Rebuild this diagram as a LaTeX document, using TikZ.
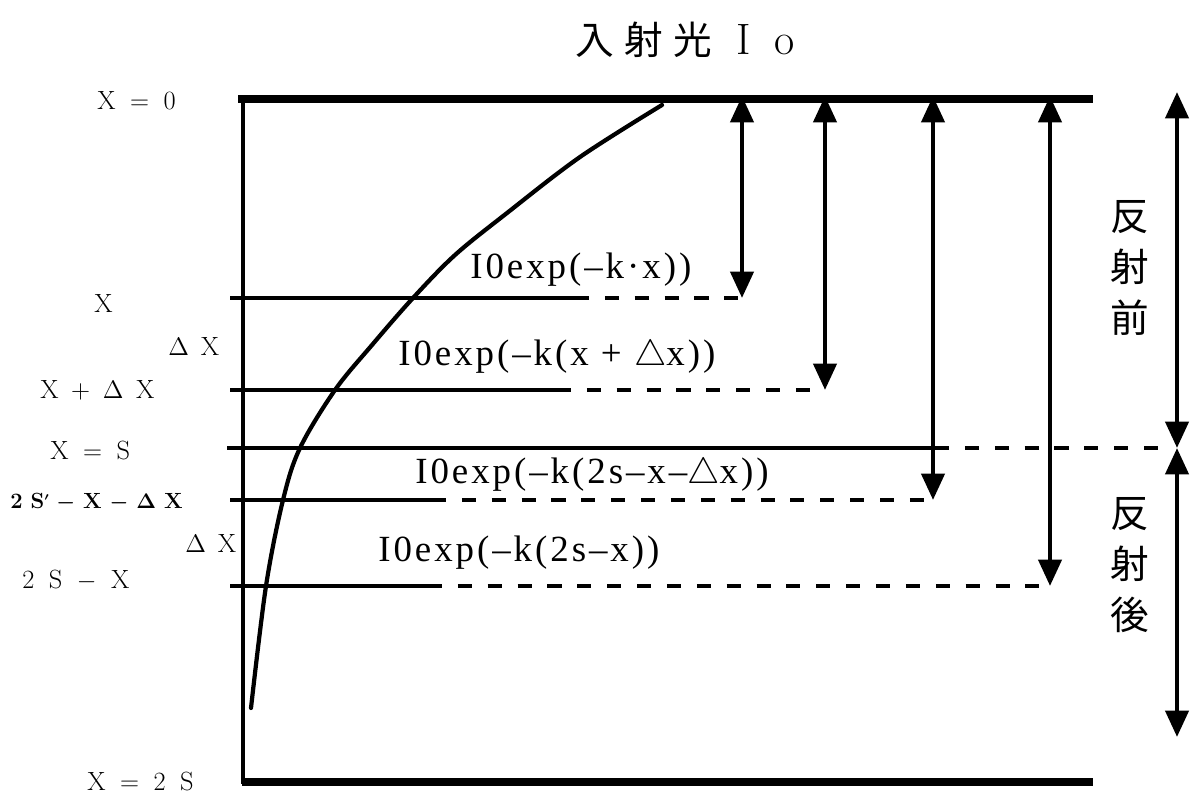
\documentclass[tikz,border=0pt]{standalone}
\usepackage{fontspec}
\usetikzlibrary{arrows.meta}
\newfontfamily\cjk{Noto Sans CJK JP}
\newfontfamily\expfont[LetterSpace=8]{Liberation Serif}
\newcommand{\gp}{\hspace{0.55em}}

\begin{document}
\begin{tikzpicture}[x=0.02cm, y=-0.02cm,
    thickline/.style={line width=4.5pt},
    levelline/.style={line width=2.2pt},
    dashline/.style={line width=2.2pt, dash pattern=on 8pt off 9pt},
    curveline/.style={line width=2.4pt, line cap=round},
    arrowline/.style={line width=2.6pt, {Triangle[length=15pt,width=13pt]}-{Triangle[length=15pt,width=13pt]}},
    lbl/.style={anchor=west, inner sep=0pt, font=\fontsize{15}{18}\selectfont},
    explbl/.style={anchor=west, inner sep=0pt, font=\fontsize{21}{24}\expfont},
    cjklbl/.style={inner sep=0pt, align=center, font=\fontsize{22}{29}\cjk}]
    \useasboundingbox (0,0) rectangle (1192,797);

    % Slab: surface, back face and left edge
    \coordinate (tl) at (238,99);
    \coordinate (tr) at (1093,99);
    \coordinate (bl) at (242,782);
    \coordinate (br) at (1093,782);
    \coordinate (lt) at (243,97);
    \coordinate (lb) at (243,784);
    \draw[thickline] (tl) -- (tr);
    \draw[thickline] (bl) -- (br);
    \draw[levelline] (lt) -- (lb);

    % Depth levels with their arrows from the surface
    \foreach \yy/\solidend/\dashend/\nm in {298/575/742/a, 390/557/825/b, 500/432/933/c, 586/428/1050/d} {
        \coordinate (lv\nm) at (230,\yy);
        \coordinate (ls\nm) at (\solidend,\yy);
        \coordinate (ld\nm) at (\dashend,\yy);
        \coordinate (top\nm) at (\dashend,96);
        \draw[levelline] (lv\nm) -- (ls\nm);
        \draw[dashline] (ls\nm) -- (ld\nm);
        \draw[arrowline] (top\nm) -- (ld\nm);
    }

    % Reflection plane x = s
    \coordinate (sl) at (227,448);
    \coordinate (sm) at (935,448);
    \coordinate (sr) at (1170,448);
    \draw[levelline] (sl) -- (sm);
    \draw[dashline] (sm) -- (sr);

    % Before / after reflection
    \coordinate (ftop) at (1177,92);
    \coordinate (fmid) at (1177,448);
    \coordinate (fbot) at (1177,737);
    \draw[arrowline] (ftop) -- (fmid);
    \draw[arrowline] (fmid) -- (fbot);

    % Intensity curve
    \draw[curveline] plot[smooth, tension=0.55] coordinates {(662,105) (580,157) (507,213) (455,255) (413,298) (372,345) (335,390) (300,448) (283,500) (266,586) (251,708)};

    % Labels
    \node[anchor=west, inner sep=0pt, font=\fontsize{25}{28}\selectfont] (title) at (575,40) {{\fontsize{22}{26}\cjk 入\hspace{0.27em}射\hspace{0.27em}光}\hspace{0.55em}I\hspace{0.55em}o};
    \node[lbl] (lblzero) at (97,101) {X\gp=\gp0};
    \node[lbl] (lblx) at (94,303) {X};
    \node[lbl] (lbldxa) at (168,346) {$\Delta$\hspace{0.45em}X};
    \node[lbl] (lblxdx) at (40,390) {X\hspace{0.48em}+\hspace{0.48em}$\Delta$\hspace{0.48em}X};
    \node[lbl] (lbls) at (50,450) {X\gp=\gp S};
    \node[lbl, font=\fontsize{12.5}{15}\selectfont\bfseries\boldmath] (lblrefl) at (10,502) {2\hspace{0.36em}S$^{\scriptscriptstyle\prime}$\hspace{0.3em}$-$\hspace{0.36em}X\hspace{0.36em}$-$\hspace{0.36em}$\Delta$\hspace{0.36em}X};
    \node[lbl] (lbldxb) at (185,543) {$\Delta$\hspace{0.45em}X};
    \node[lbl] (lbltwosx) at (22,580) {2\gp S\gp$-$\gp X};
    \node[lbl] (lbltwos) at (87,781) {X\gp=\gp2\gp S};

    \node[explbl] (expa) at (470,270) {I0exp(–k·x))};
    \node[explbl] (expb) at (398,357) {I0exp(–k(x + $\triangle$x))};
    \node[explbl] (expc) at (415,475) {I0exp(–k(2s–x–$\triangle$x))};
    \node[explbl] (expd) at (378,553) {I0exp(–k(2s–x))};

    \node[cjklbl] (before) at (1130,268) {反\\射\\前};
    \node[cjklbl] (after) at (1130,565) {反\\射\\後};
\end{tikzpicture}
\end{document}
